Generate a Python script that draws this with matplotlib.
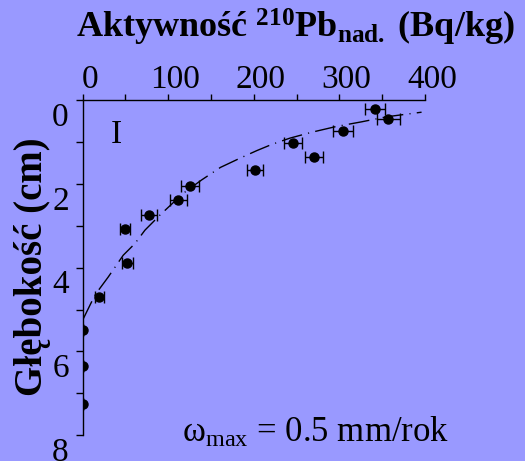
#!/usr/bin/env python3
# 210Pb excess activity vs depth profile

import numpy as np
import matplotlib
matplotlib.use("Agg")
import matplotlib.pyplot as plt
from matplotlib.transforms import ScaledTranslation

# -----------------------------
# Data
# -----------------------------
activity = [341.5, 357, 304.4, 246, 270.6, 201.3, 125.4, 111.7, 77.8, 49.4, 52.1, 19.4, 0, 0, 0]
depth = [0.20, 0.45, 0.73, 1.01, 1.34, 1.66, 2.04, 2.38, 2.74, 3.07, 3.88, 4.71, 5.49, 6.34, 7.25]
activity_err = [12, 13.5, 11.7, 10.7, 10.7, 9, 10, 10, 9.5, 6.2, 6.2, 5.4, 0, 0, 0]

fit_activity = [0, 14.4, 29.9, 47.4, 61.1, 72.8, 90.3, 117.5, 139, 161, 183.8, 203.3,
                221, 242.2, 267.5, 296.7, 326, 355, 396]
fit_depth = [5.25, 4.65, 4.22, 3.70, 3.42, 3.10, 2.74, 2.22, 1.90, 1.60, 1.38, 1.20,
             1.05, 0.90, 0.76, 0.62, 0.51, 0.39, 0.28]

x_ticks = [0, 100, 200, 300, 400]
y_ticks = [0, 2, 4, 6, 8]

BG = "#9999ff"

plt.rcParams["font.family"] = ["Liberation Serif", "DejaVu Serif"]
plt.rcParams["mathtext.fontset"] = "custom"
plt.rcParams["mathtext.rm"] = "Liberation Serif"
plt.rcParams["mathtext.bf"] = "Liberation Serif:bold"
plt.rcParams["mathtext.it"] = "Liberation Serif:italic"


def main():
    fig = plt.figure(figsize=(5.25, 4.61), dpi=100, facecolor=BG)
    ax = fig.add_axes([0.1575, 0.0564, 0.652, 0.7256])
    ax.set_facecolor(BG)

    ax.plot(fit_activity, fit_depth, color="black", lw=1.0,
            linestyle=(0, (15, 4.5, 0.8, 4.5)))
    ax.errorbar(activity, depth, xerr=activity_err, fmt="o", color="black",
                ms=6.5, elinewidth=1, capsize=4, capthick=1)

    ax.set_xlim(0, 400)
    ax.set_ylim(8, 0)
    ax.set_xticks(x_ticks)
    ax.set_xticks([50, 150, 250, 350], minor=True)
    ax.set_yticks(y_ticks)
    ax.set_yticks([1, 3, 5, 7], minor=True)

    for s in ("right", "bottom"):
        ax.spines[s].set_visible(False)
    for s in ("top", "left"):
        ax.spines[s].set_linewidth(1)

    ax.xaxis.tick_top()
    ax.tick_params(axis="x", which="both", direction="out", length=4, width=1,
                   pad=0, labelsize=24)
    ax.tick_params(axis="y", which="both", direction="out", length=5, width=1,
                   pad=5, labelsize=24)

    # labels sit a little off their ticks in the original
    for lab in ax.get_yticklabels():
        lab.set_transform(lab.get_transform() + ScaledTranslation(0, -0.14, fig.dpi_scale_trans))
    for lab in ax.get_xticklabels():
        lab.set_transform(lab.get_transform() + ScaledTranslation(0.07, 0, fig.dpi_scale_trans))

    ax.text(39, 1.02, "I", fontsize=24, ha="center", va="baseline")

    fig.text(0.562, 1 - 38 / 461,
             r"Aktywność $^{\mathbf{210}}\mathbf{Pb}_{\mathbf{nad.}}$ (Bq/kg)",
             ha="center", va="baseline", fontsize=26, weight="bold")
    fig.text(33 / 525, 1 - 267 / 461, "Głębokość (cm)", rotation=90,
             ha="center", va="center", fontsize=28, weight="bold")
    fig.text(182 / 525, 1 - 442 / 461, r"ω$_{\mathrm{max}}$ = 0.5 mm/rok",
             ha="left", va="baseline", fontsize=25)

    fig.savefig("out.png", dpi=100, facecolor=BG)
    plt.close(fig)


if __name__ == "__main__":
    main()
